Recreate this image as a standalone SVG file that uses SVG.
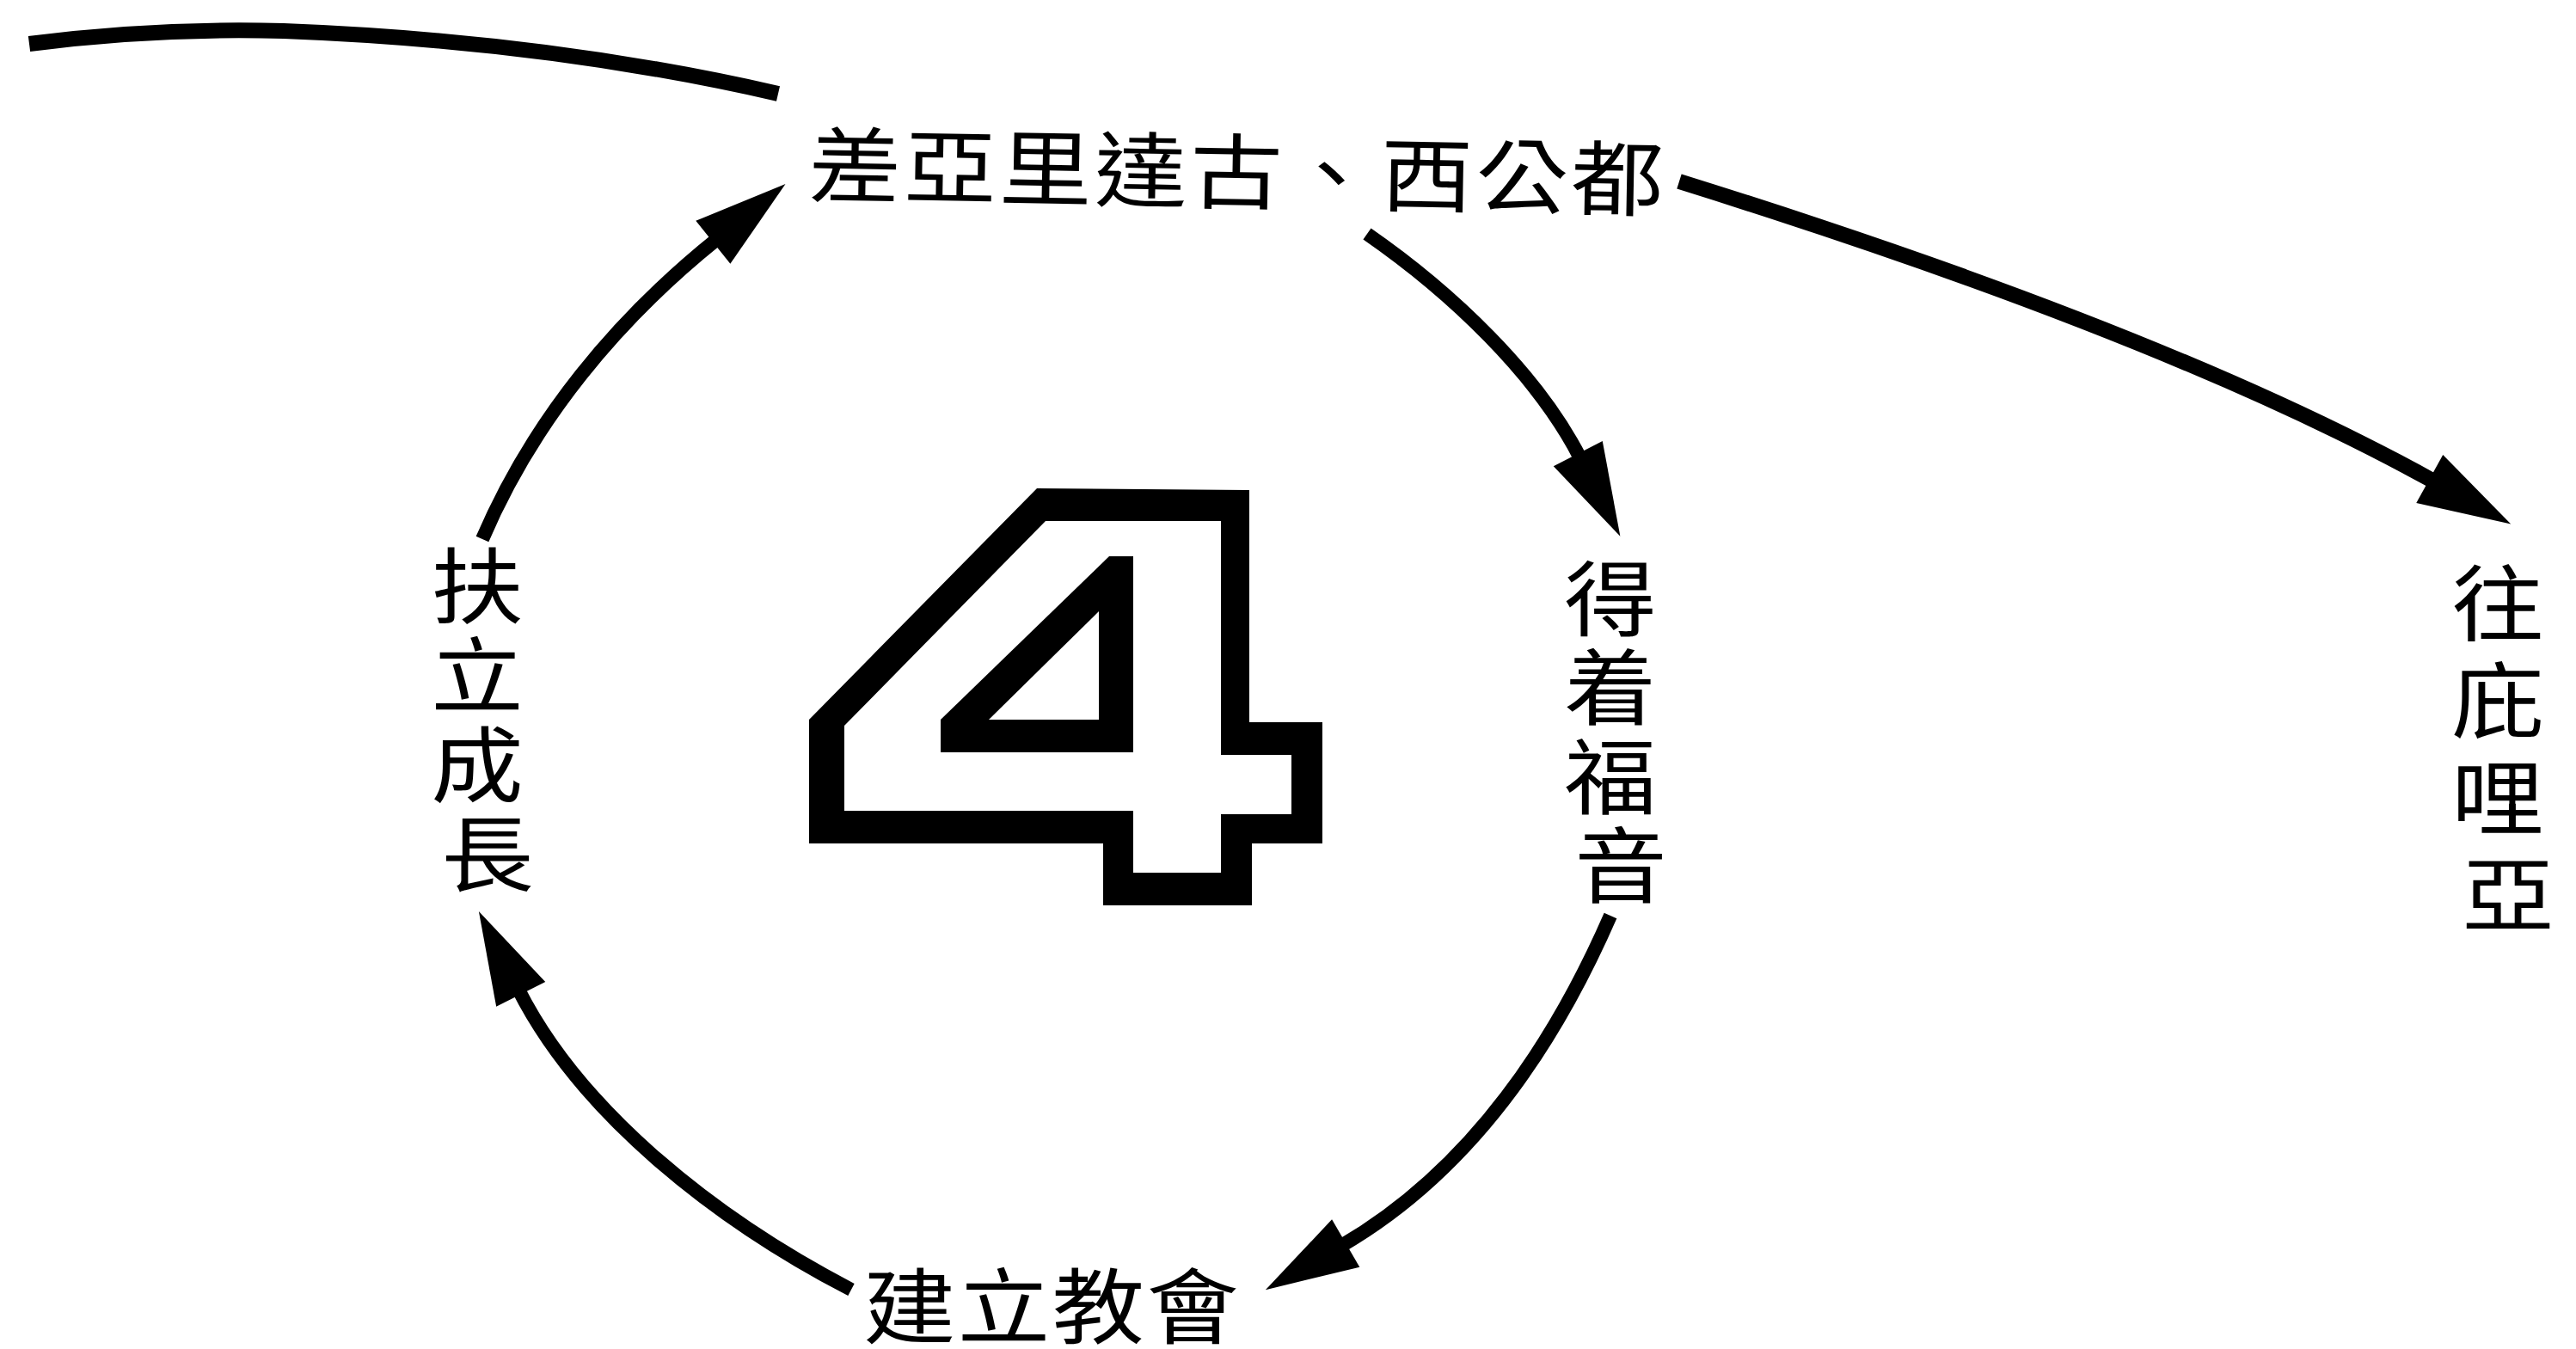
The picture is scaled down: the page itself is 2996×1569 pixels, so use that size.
<svg xmlns="http://www.w3.org/2000/svg" width="2996" height="1569" viewBox="0 0 2996 1569">
  <style>
    .conn { fill: none; stroke: #000; stroke-width: 16; stroke-linecap: butt; }
    .thick { stroke-width: 18; }
    .label { font-family: "Noto Sans CJK TC", "Noto Sans CJK SC", sans-serif; font-size: 96px; fill: #000; }
    .vlabel { text-anchor: middle; }
  </style>
  <defs>
    <marker id="head" markerUnits="userSpaceOnUse" markerWidth="120" markerHeight="80" refX="0" refY="0" orient="auto" overflow="visible">
      <path d="M-6,-32 L102,0 L-6,32 Z" fill="#000"/>
    </marker>
  </defs>
  <rect width="2996" height="1569" fill="#fff"/>

  <g id="connectors">
    <path id="curve-in" class="conn thick" d="M34,51 Q180,32 330,36 Q640,48 905,109"/>
    <path id="arrow-growth-to-top" class="conn" d="M561,627 C620,489 717,372 834,278" marker-end="url(#head)"/>
    <path id="arrow-top-to-gospel" class="conn" d="M1590,272 C1688,340 1788,435 1838,533" marker-end="url(#head)"/>
    <path id="arrow-gospel-to-church" class="conn" d="M1873,1065 C1805,1221 1706,1364 1560,1449" marker-end="url(#head)"/>
    <path id="arrow-church-to-growth" class="conn" d="M990,1500 C830,1417 675,1293 603,1151" marker-end="url(#head)"/>
    <path id="arrow-to-berea" class="conn thick" d="M1953,211 C2190,285 2560,410 2831,560" marker-end="url(#head)"/>
  </g>

  <g id="node-top" transform="rotate(1 940 227) translate(940 227) scale(1.12 1)">
    <text class="label" x="0" y="0" letter-spacing="3">差亞里達古、西公都</text>
  </g>

  <g id="node-gospel" transform="translate(1885 0) scale(1.12 1)">
    <text class="label vlabel">
      <tspan x="0" y="732">得</tspan>
      <tspan x="0" y="835">着</tspan>
      <tspan x="0" y="939">福</tspan>
      <tspan x="0" y="1042">音</tspan>
    </text>
  </g>

  <g id="node-church" transform="translate(1004 1555) scale(1.12 1)">
    <text class="label" x="0" y="0" letter-spacing="2">建立教會</text>
  </g>

  <g id="node-growth" transform="translate(567 0) scale(1.12 1)">
    <text class="label vlabel">
      <tspan x="0" y="717">扶</tspan>
      <tspan x="0" y="821">立</tspan>
      <tspan x="0" y="925">成</tspan>
      <tspan x="0" y="1029">長</tspan>
    </text>
  </g>

  <g id="node-berea" transform="translate(2917 0) scale(1.12 1)">
    <text class="label vlabel">
      <tspan x="0" y="737">往</tspan>
      <tspan x="0" y="850">庇</tspan>
      <tspan x="0" y="963">哩</tspan>
      <tspan x="0" y="1076">亞</tspan>
    </text>
  </g>

  <g id="numeral-4">
    <polygon fill="#000" points="1206,568 1453,570 1453,840 1538,840 1538,981 1456,981 1456,1053 1283,1053 1283,981 941,981 941,837"/>
    <polygon fill="#fff" points="1216,606 1420,606 1420,878 1502,878 1502,947 1420,947 1420,1015 1318,1015 1318,943 982,943 982,844"/>
    <polygon fill="#000" points="1290,647 1318,647 1318,875 1094,875 1094,837"/>
    <polygon fill="#fff" points="1278,711 1278,837 1150,837"/>
  </g>
</svg>
